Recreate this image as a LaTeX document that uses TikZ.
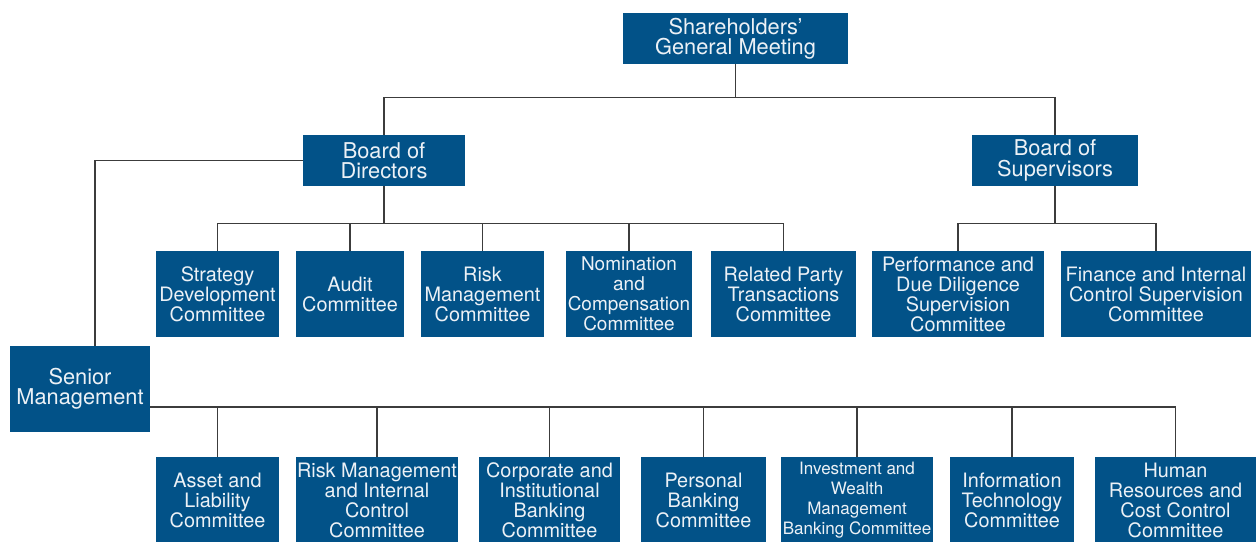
\documentclass[tikz,border=0pt]{standalone}
\usepackage{fontspec}
\setmainfont{TeX Gyre Heros}
\usetikzlibrary{positioning, calc}

\definecolor{boxblue}{RGB}{2,82,136}
\definecolor{boxtext}{RGB}{236,241,246}
\definecolor{linegray}{RGB}{60,60,60}

\begin{document}
\begin{tikzpicture}[
    x=0.02cm, y=-0.02cm,
    unit/.style={fill=boxblue, text=boxtext, inner sep=0pt, align=center,
                 minimum height=1.72cm, font=\fontsize{11.3}{11.4}\selectfont},
    head/.style={unit, minimum height=1.02cm, font=\fontsize{12.4}{11.6}\selectfont},
    link/.style={draw=linegray, line width=0.9pt}
  ]
  \useasboundingbox (0,0) rectangle (1256,541);

  % top of the tree
  \node[head, minimum width=4.5cm] (sgm) at (735.5,38.5) {Shareholders’\\General Meeting};
  \node[head, minimum width=3.24cm] (bod) at (384,160.5) {Board of\\Directors};
  \node[head, minimum width=3.32cm] (bos) at (1055,160.5) {Board of\\Supervisors};
  \node[head, minimum width=2.8cm, minimum height=1.72cm] (senior) at (80,389) {Senior\\Management};

  % board committees
  \node[unit, minimum width=2.46cm] (strat) at (217.5,294) {Strategy\\Development\\Committee};
  \node[unit, minimum width=2.16cm] (audit) at (350,294) {Audit\\Committee};
  \node[unit, minimum width=2.46cm] (risk) at (482.5,294) {Risk\\Management\\Committee};
  \node[unit, minimum width=2.52cm, font=\fontsize{10.8}{11.4}\selectfont] (nom) at (629,294)
    {Nomination\\and\\Compensation\\Committee};
  \node[unit, minimum width=2.9cm] (rpt) at (783.5,294) {Related Party\\Transactions\\Committee};

  % supervisors committees
  \node[unit, minimum width=3.44cm] (perf) at (958,294) {Performance and\\Due Diligence\\Supervision\\Committee};
  \node[unit, minimum width=3.8cm] (fin) at (1156,294) {Finance and Internal\\Control Supervision\\Committee};

  % management committees
  \node[unit, minimum width=2.46cm] (asset) at (217.5,500) {Asset and\\Liability\\Committee};
  \node[unit, minimum width=3.24cm] (rmic) at (377,500) {Risk Management\\and Internal\\Control\\Committee};
  \node[unit, minimum width=2.82cm] (corp) at (549.5,500) {Corporate and\\Institutional\\Banking\\Committee};
  \node[unit, minimum width=2.5cm] (pers) at (703.5,500) {Personal\\Banking\\Committee};
  \node[unit, minimum width=3.04cm, font=\fontsize{9.7}{11.4}\selectfont] (inv) at (857,500)
    {Investment and\\Wealth\\Management\\Banking Committee};
  \node[unit, minimum width=2.48cm] (it) at (1012,500) {Information\\Technology\\Committee};
  \node[unit, minimum width=3.22cm] (hr) at (1175.5,500) {Human\\Resources and\\Cost Control\\Committee};

  % connectors
  \coordinate (topbus) at ($(sgm.south)+(0,33)$);
  \draw[link] (sgm.south) -- (topbus);
  \draw[link] (bod.north) |- (topbus) -| (bos.north);
  \draw[link] (bod.west) -| ($(senior.north)+(15,0)$);
  \foreach \c in {strat,audit,risk,nom,rpt}
    \draw[link] (bod.south) -- ++(0,37) -| (\c.north);
  \foreach \c in {perf,fin}
    \draw[link] (bos.south) -- ++(0,37) -| (\c.north);
  \foreach \c in {asset,rmic,corp,pers,inv,it,hr}
    \draw[link] ($(senior.east)+(0,18)$) -| (\c.north);
\end{tikzpicture}
\end{document}
